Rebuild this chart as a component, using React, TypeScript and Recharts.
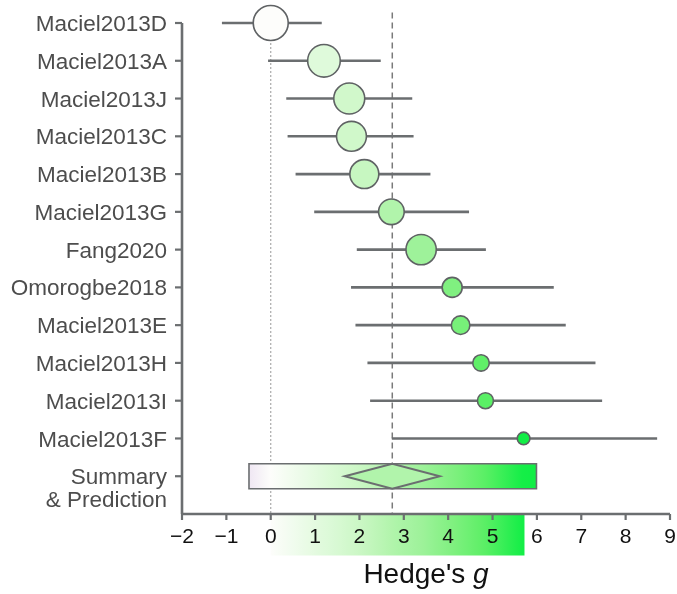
import React from "react";
import {
  ScatterChart,
  Scatter,
  XAxis,
  YAxis,
  ReferenceLine,
  ReferenceArea,
} from "recharts";

// Study-level effect sizes (Hedge's g) with 95% CI and relative weight (%)
const studies = [
  "Maciel2013D",
  "Maciel2013A",
  "Maciel2013J",
  "Maciel2013C",
  "Maciel2013B",
  "Maciel2013G",
  "Fang2020",
  "Omorogbe2018",
  "Maciel2013E",
  "Maciel2013H",
  "Maciel2013I",
  "Maciel2013F",
];
const effects = [0.0, 1.2, 1.77, 1.82, 2.11, 2.72, 3.39, 4.09, 4.28, 4.74, 4.84, 5.7];
const ciLower = [-1.1, -0.06, 0.35, 0.38, 0.56, 0.98, 1.94, 1.81, 1.91, 2.18, 2.24, 2.73];
const ciUpper = [1.15, 2.48, 3.19, 3.22, 3.6, 4.47, 4.85, 6.38, 6.65, 7.32, 7.47, 8.71];
const weights = [15.3, 13.3, 12.0, 11.2, 10.5, 8.2, 11.5, 5.0, 4.3, 3.4, 3.2, 2.0];

// Pooled estimate, its CI and the prediction interval
const summaryLabel = "Summary\n& Prediction";
const summaryEstimate = 2.74;
const summaryCI = [1.67, 3.81];
const predictionInterval = [-0.49, 5.99];
const colorScaleRange = [0, 5.72];

const xTicks = [-2, -1, 0, 1, 2, 3, 4, 5, 6, 7, 8, 9];

const rowLabels = [...studies, summaryLabel];
const rowTicks = rowLabels.map((_, i) => i);
const summaryRow = studies.length;

const data = studies.map((name, i) => ({
  name,
  row: i,
  g: effects[i],
  lo: ciLower[i],
  hi: ciUpper[i],
  weight: weights[i],
}));

const FONT = "'Liberation Sans', Arial, Helvetica, sans-serif";
const GREY = "#6b6e70";

// diverging colour map: lavender below zero, white at zero, green above
const colorStops: [number, string][] = [
  [-0.6, "#ece2f1"],
  [0, "#fdfdfb"],
  [1.2, "#dffadb"],
  [2, "#cbf7c5"],
  [2.7, "#b2f4ac"],
  [3.4, "#9ef29a"],
  [4.1, "#80f080"],
  [4.8, "#5def66"],
  [5.7, "#12ee46"],
];

function hexToRgb(h: string) {
  const n = parseInt(h.slice(1), 16);
  return [(n >> 16) & 255, (n >> 8) & 255, n & 255];
}

function colorAt(v: number): string {
  if (v <= colorStops[0][0]) return colorStops[0][1];
  const last = colorStops[colorStops.length - 1];
  if (v >= last[0]) return last[1];
  for (let i = 0; i < colorStops.length - 1; i++) {
    const [a, ca] = colorStops[i];
    const [b, cb] = colorStops[i + 1];
    if (v >= a && v <= b) {
      const t = (v - a) / (b - a);
      const A = hexToRgb(ca);
      const B = hexToRgb(cb);
      const c = A.map((x, k) => Math.round(x + (B[k] - x) * t));
      return `rgb(${c[0]},${c[1]},${c[2]})`;
    }
  }
  return last[1];
}

function gradientStops(lo: number, hi: number, n = 40) {
  const out: { offset: string; color: string }[] = [];
  for (let i = 0; i <= n; i++) {
    const v = lo + ((hi - lo) * i) / n;
    out.push({ offset: `${(i / n) * 100}%`, color: colorAt(v) });
  }
  return out;
}

const StudyTick = (props: any) => {
  const { x, y, payload } = props;
  const lines = String(rowLabels[payload.value] ?? "").split("\n");
  return (
    <text
      x={x}
      y={y}
      textAnchor="end"
      fill="#4d4d4d"
      fontSize={22.5}
      fontFamily={FONT}
    >
      {lines.map((line, i) => (
        <tspan key={i} x={x} dy={i === 0 ? "0.36em" : 23}>
          {line}
        </tspan>
      ))}
    </text>
  );
};

const StudyPoint = (props: any) => {
  const { cx, cy, payload } = props;
  if (cx == null || cy == null) return null;
  const r = Math.sqrt(payload.weight * 20);
  return (
    <circle
      cx={cx}
      cy={cy}
      r={r}
      fill={colorAt(payload.g)}
      stroke="#5f6264"
      strokeWidth={1.6}
    />
  );
};

const Diamond = (props: any) => {
  const { x, y, width, height } = props;
  const midY = y + height / 2;
  const midX = x + width / 2;
  const pts = `${x},${midY} ${midX},${y} ${x + width},${midY} ${midX},${y + height}`;
  return (
    <polygon
      points={pts}
      fill={colorAt(summaryEstimate)}
      stroke={GREY}
      strokeWidth={2}
      strokeLinejoin="miter"
    />
  );
};

const AxisTitle = (props: any) => {
  const vb = props.viewBox || {};
  const cx = vb.x + vb.width / 2;
  return (
    <text
      x={cx}
      y={vb.y + 69}
      textAnchor="middle"
      fill="#111"
      fontSize={28}
      fontFamily={FONT}
    >
      Hedge's <tspan fontStyle="italic">g</tspan>
    </text>
  );
};

const fmtTick = (v: number) => (v < 0 ? `\u2212${Math.abs(v)}` : `${v}`);

export default function App() {
  const predStops = gradientStops(predictionInterval[0], predictionInterval[1]);
  const scaleStops = gradientStops(colorScaleRange[0], colorScaleRange[1]);
  return (
    <div style={{ position: "fixed", left: 0, top: 0, width: 677, height: 594 }}>
      <style>{`html, body { margin: 0; padding: 0; overflow: hidden; }`}</style>
      <ScatterChart
        width={677}
        height={594}
        margin={{ top: 23, right: 7, bottom: 0, left: 0 }}
        style={{ fontFamily: FONT }}
      >
        <defs>
          <linearGradient id="predGrad" x1="0" y1="0" x2="1" y2="0">
            {predStops.map((s, i) => (
              <stop key={i} offset={s.offset} stopColor={s.color} />
            ))}
          </linearGradient>
          <linearGradient id="scaleGrad" x1="0" y1="0" x2="1" y2="0">
            {scaleStops.map((s, i) => (
              <stop key={i} offset={s.offset} stopColor={s.color} />
            ))}
          </linearGradient>
        </defs>

        {/* colour key behind the x tick labels */}
        <ReferenceArea
          x1={colorScaleRange[0]}
          x2={colorScaleRange[1]}
          y1={rowLabels.length}
          y2={rowLabels.length + 1.1}
          fill="url(#scaleGrad)"
          fillOpacity={1}
          stroke="none"
          ifOverflow="visible"
          zIndex={10}
        />

        {/* zero line and pooled-estimate line */}
        <ReferenceLine
          segment={[
            { x: 0, y: -0.2 },
            { x: 0, y: rowLabels.length },
          ]}
          stroke="#555"
          strokeWidth={1.2}
          strokeDasharray="1 3"
          ifOverflow="visible"
          zIndex={20}
        />
        <ReferenceLine
          segment={[
            { x: summaryEstimate, y: -0.28 },
            { x: summaryEstimate, y: rowLabels.length },
          ]}
          stroke="#7a7a7a"
          strokeWidth={1.5}
          strokeDasharray="6 4"
          ifOverflow="visible"
          zIndex={20}
        />

        {/* confidence intervals */}
        {data.map((d) => (
          <ReferenceLine
            key={d.name}
            segment={[
              { x: d.lo, y: d.row },
              { x: d.hi, y: d.row },
            ]}
            stroke={GREY}
            strokeWidth={2.6}
            ifOverflow="visible"
            zIndex={30}
          />
        ))}

        {/* prediction interval bar and summary diamond */}
        <ReferenceArea
          x1={predictionInterval[0]}
          x2={predictionInterval[1]}
          y1={summaryRow - 0.33}
          y2={summaryRow + 0.33}
          fill="url(#predGrad)"
          fillOpacity={1}
          stroke={GREY}
          strokeWidth={1.6}
          ifOverflow="visible"
          zIndex={40}
        />
        <ReferenceArea
          x1={summaryCI[0]}
          x2={summaryCI[1]}
          y1={summaryRow - 0.33}
          y2={summaryRow + 0.33}
          shape={Diamond}
          ifOverflow="visible"
          zIndex={50}
        />

        <Scatter
          data={data}
          dataKey="row"
          shape={StudyPoint}
          isAnimationActive={false}
        />

        <XAxis
          type="number"
          dataKey="g"
          domain={[-2, 9]}
          ticks={xTicks}
          interval={0}
          tickFormatter={fmtTick}
          height={80}
          tickSize={6}
          tickMargin={8}
          axisLine={{ stroke: GREY, strokeWidth: 2.6 }}
          tickLine={{ stroke: GREY, strokeWidth: 2.2 }}
          tick={{ fill: "#111", fontSize: 21, fontFamily: FONT }}
          label={<AxisTitle />}
        />
        <YAxis
          type="number"
          dataKey="row"
          domain={[0, rowLabels.length]}
          reversed
          ticks={rowTicks}
          interval={0}
          width={182}
          tickSize={7}
          tickMargin={8}
          axisLine={{ stroke: GREY, strokeWidth: 2.6 }}
          tickLine={{ stroke: GREY, strokeWidth: 2.2 }}
          tick={<StudyTick />}
        />
      </ScatterChart>
    </div>
  );
}
